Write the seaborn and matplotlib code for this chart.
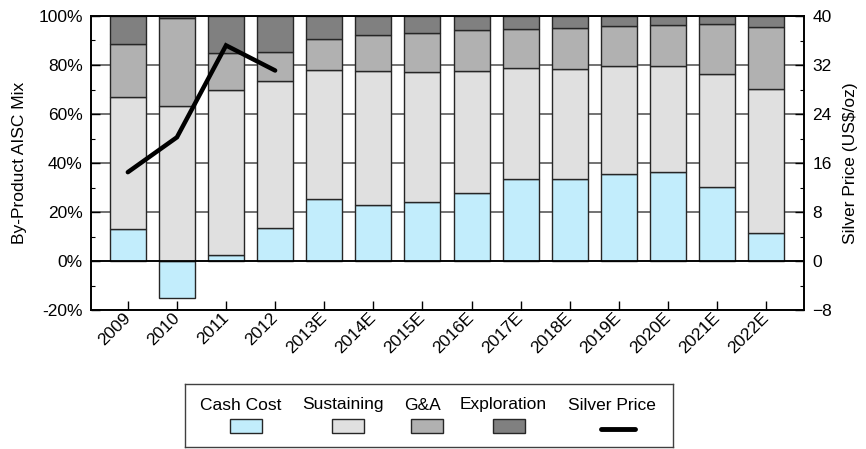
import numpy as np
import matplotlib
matplotlib.use("Agg")
import matplotlib.pyplot as plt
from matplotlib.ticker import MultipleLocator, FuncFormatter
from matplotlib.patches import Rectangle
import seaborn as sns

# data (% of by-product AISC)
years = ["2009", "2010", "2011", "2012", "2013E", "2014E", "2015E",
         "2016E", "2017E", "2018E", "2019E", "2020E", "2021E", "2022E"]
cash_cost = [13.2, -15.1, 2.3, 13.5, 25.5, 23.0, 24.0, 27.6, 33.6, 33.3, 35.7, 36.5, 30.2, 11.6]
sustaining = [53.7, 63.4, 67.6, 59.8, 52.3, 54.4, 53.0, 49.8, 45.1, 45.1, 43.8, 43.0, 46.0, 58.5]
g_and_a = [21.8, 35.9, 15.0, 12.0, 13.0, 14.7, 16.2, 16.8, 16.0, 16.8, 16.4, 17.0, 20.4, 25.4]
exploration = [11.3, 0.7, 15.1, 14.7, 9.2, 7.9, 6.8, 5.8, 5.3, 4.8, 4.1, 3.5, 3.4, 4.5]
# silver price US$/oz, only historical years
silver_years = ["2009", "2010", "2011", "2012"]
silver_price = [14.5, 20.2, 35.2, 31.1]

labels = ["Cash Cost", "Sustaining", "G&A", "Exploration"]
colors = ["#C2EDFC", "#E0E0E0", "#B1B1B1", "#808080"]
edge = "#262626"

sns.set_style("white")
plt.rcParams["font.family"] = ["Liberation Sans", "DejaVu Sans"]
plt.rcParams["font.size"] = 12.5
plt.rcParams["text.color"] = "black"
plt.rcParams["axes.labelcolor"] = "black"
plt.rcParams["xtick.color"] = "black"
plt.rcParams["ytick.color"] = "black"

fig = plt.figure(figsize=(8.66, 4.49), dpi=100)
ax = fig.add_axes([91 / 866, 1 - 310 / 449, (804 - 91) / 866, (310 - 16) / 449])

# stacked bars, negative cash cost hangs below zero
layers = [np.array(cash_cost), np.array(sustaining), np.array(g_and_a), np.array(exploration)]
bottom = np.zeros(len(years))
for i, (vals, col) in enumerate(zip(layers, colors)):
    if i == 0:
        b = np.zeros(len(years))
    else:
        b = bottom.copy()
    sns.barplot(x=years, y=vals, bottom=b, color=col, saturation=1, width=0.733,
                edgecolor=edge, linewidth=1, errorbar=None, ax=ax, zorder=2)
    if i == 0:
        bottom = np.clip(vals, 0, None)
    else:
        bottom = bottom + vals

ax.axhline(0, color="black", lw=1.3, zorder=3)
ax.set_ylim(-20, 100)
ax.set_xlim(-0.75, len(years) - 1 + 0.77)
ax.yaxis.set_major_locator(MultipleLocator(20))
ax.yaxis.set_minor_locator(MultipleLocator(10))
ax.yaxis.set_major_formatter(FuncFormatter(lambda v, p: f"{v:.0f}%"))
ax.yaxis.grid(True, which="major", color="#5a5a5a", lw=1.2)
ax.set_axisbelow(True)
ax.tick_params(axis="y", which="major", direction="in", length=6.5, width=1, pad=6)
ax.tick_params(axis="y", which="minor", direction="in", length=3, width=0.8)
ax.tick_params(axis="x", direction="in", length=6.5, width=1, pad=4, bottom=True)
ax.set_xticks(range(len(years)))
ax.set_xticklabels(years, rotation=45, ha="right", va="center", rotation_mode="anchor")
ax.set_ylabel("By-Product AISC Mix", labelpad=8)
ax.set_xlabel("")
for s in ax.spines.values():
    s.set_color("black")
    s.set_linewidth(1.2)

# silver price on secondary axis
ax2 = ax.twinx()
pos = [years.index(y) for y in silver_years]
sns.lineplot(x=pos, y=silver_price, color="black", lw=3.2, ax=ax2,
             solid_capstyle="round", solid_joinstyle="miter", zorder=5)
ax2.set_ylim(-8, 40)
ax2.yaxis.set_major_locator(MultipleLocator(8))
ax2.yaxis.set_minor_locator(MultipleLocator(4))
ax2.tick_params(axis="y", which="major", direction="in", length=6.5, width=1, pad=6)
ax2.tick_params(axis="y", which="minor", direction="in", length=3, width=0.8)
ax2.set_ylabel("Silver Price (US\\$/oz)", labelpad=8)
for s in ax2.spines.values():
    s.set_color("black")
    s.set_linewidth(1.2)

# legend: text above each key, boxed
lax = fig.add_axes([185 / 866, 1 - 447 / 449, (673 - 185) / 866, (447 - 384) / 449])
lax.set_xlim(185, 673)
lax.set_ylim(447, 384)
lax.set_xticks([])
lax.set_yticks([])
for s in lax.spines.values():
    s.set_color("#404040")
    s.set_linewidth(1)
text_x = [241, 342.5, 422, 503.5, 612]
key_x = [246, 348, 427, 508.5, 618]
for lab, col, tx, kx in zip(labels, colors, text_x, key_x):
    lax.text(tx, 405, lab, ha="center", va="center")
    lax.add_patch(Rectangle((kx - 16, 419), 32, 14, facecolor=col, edgecolor=edge, lw=1))
lax.text(text_x[4], 405, "Silver Price", ha="center", va="center")
lax.plot([key_x[4] - 17, key_x[4] + 17], [429, 429], color="black", lw=3.5, solid_capstyle="round")

fig.savefig("out.png", dpi=100)
